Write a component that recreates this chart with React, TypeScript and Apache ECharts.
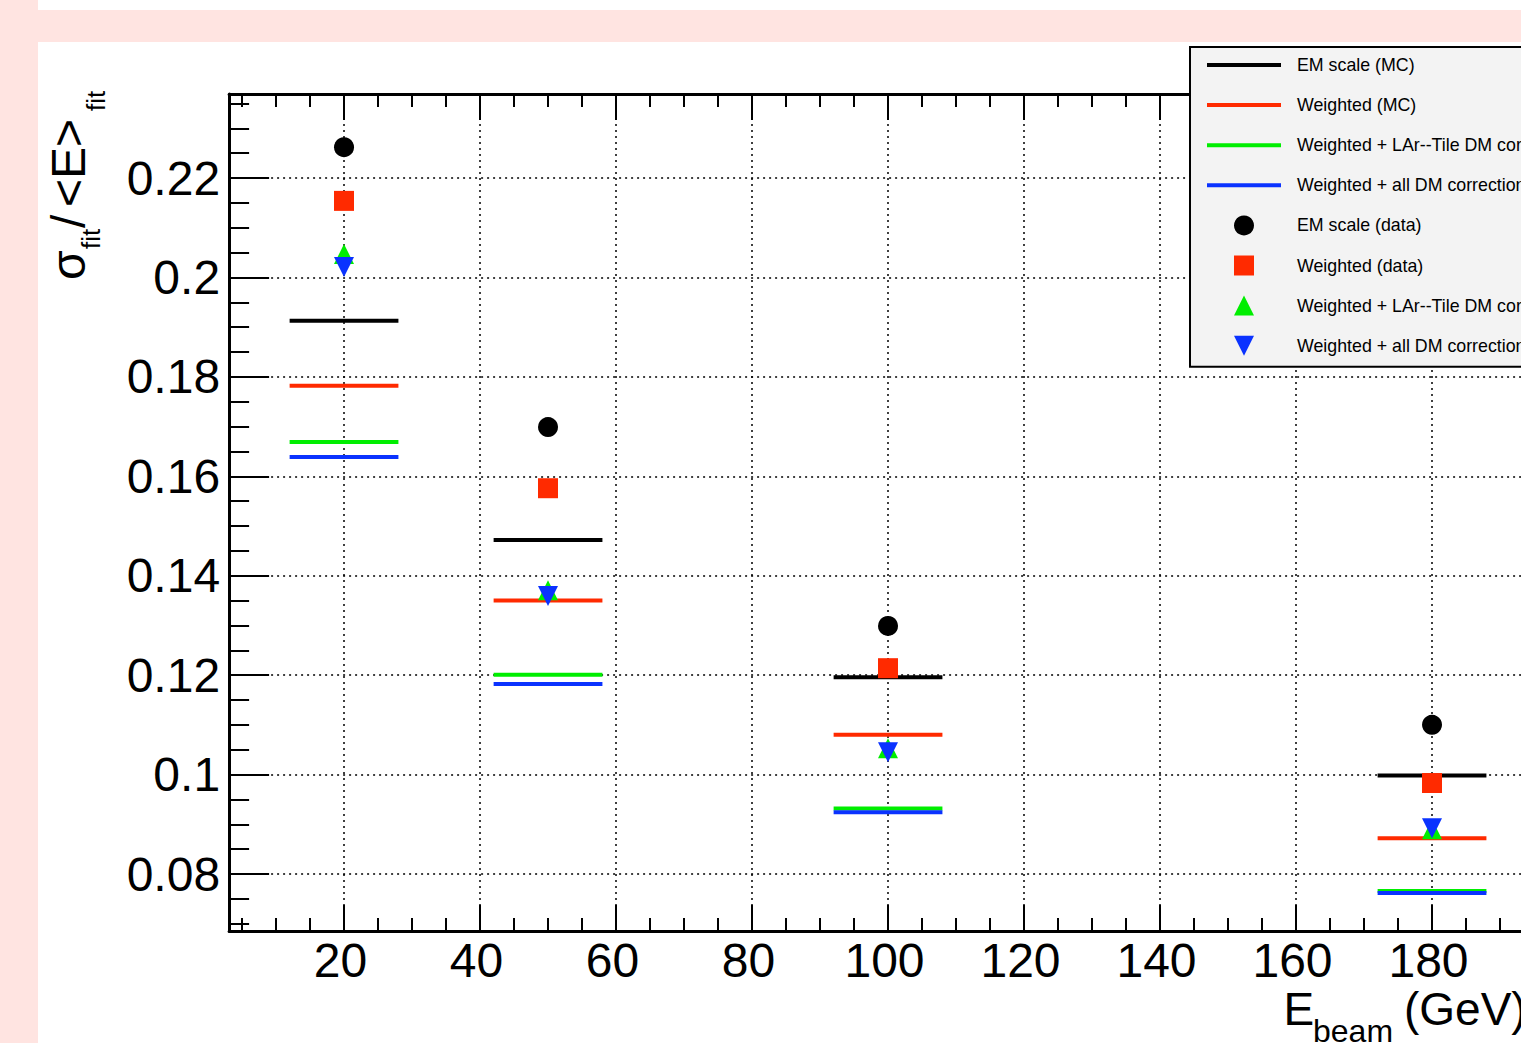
import React, { useEffect, useRef } from 'react';
import * as echarts from 'echarts';

// ---- data ----
const energies = [20, 50, 100, 180];
const binHalfWidth = 8;

const emScaleMC = [0.1913, 0.1472, 0.1196, 0.0998];
const weightedMC = [0.1782, 0.1350, 0.1080, 0.0872];
const larTileMC = [0.1669, 0.1201, 0.0932, 0.0766];
const allDMMC = [0.1639, 0.1182, 0.0924, 0.0762];

const emScaleData = [0.2262, 0.1699, 0.1299, 0.1100];
const weightedData = [0.2154, 0.1576, 0.1214, 0.0983];
const larTileData = [0.2047, 0.1371, 0.1053, 0.0890];
const allDMData = [0.2021, 0.1359, 0.1045, 0.0892];

const seriesNames = [
  'EM scale (MC)',
  'Weighted (MC)',
  'Weighted + LAr--Tile DM correction (MC)',
  'Weighted + all DM corrections (MC)',
  'EM scale (data)',
  'Weighted (data)',
  'Weighted + LAr--Tile DM correction (data)',
  'Weighted + all DM corrections (data)',
];

const xMajorTicks = [20, 40, 60, 80, 100, 120, 140, 160, 180, 200];
const xMinorTicks = Array.from({ length: 39 }, (_, k) => (k + 1) * 5);
const yMajorTicks = [0.08, 0.1, 0.12, 0.14, 0.16, 0.18, 0.2, 0.22];
const yMinorTicks = Array.from({ length: 34 }, (_, k) => Math.round((k + 14) * 5) / 1000);

const X_MIN = 3.1;
const X_MAX = 200;
const Y_MIN = 0.068535;
const Y_MAX = 0.2369;

const FONT = "'Liberation Sans', Arial, Helvetica, sans-serif";

const COLORS = {
  black: '#000000',
  red: '#ff2a00',
  green: '#00ee00',
  blue: '#0a32ff',
};

function segments(vals: number[]) {
  const out: any[] = [];
  energies.forEach((e, i) => {
    out.push([e - binHalfWidth, vals[i]]);
    out.push([e + binHalfWidth, vals[i]]);
    out.push(['-', '-']);
  });
  return out;
}

function points(vals: number[]) {
  return energies.map((e, i) => [e, vals[i]]);
}

const DOWN_TRI = 'path://M0,0L1,0L0.5,1Z';
const UP_TRI = 'path://M0.5,0L1,1L0,1Z';
const SQUARE = 'path://M0,0L1,0L1,1L0,1Z';
const LINE_ICON = 'path://M0,0L74,0L74,4L0,4Z';

function xAxisDef(position: 'top' | 'bottom', major: boolean) {
  return {
    type: 'value',
    position,
    min: X_MIN,
    max: X_MAX,
    axisLine: {
      show: major,
      onZero: false,
      lineStyle: { color: '#000', width: 3 },
    },
    axisTick: {
      show: true,
      inside: true,
      length: major ? 26 : 13,
      customValues: major ? xMajorTicks : xMinorTicks,
      lineStyle: { color: '#000', width: 2 },
    },
    axisLabel: {
      show: major && position === 'bottom',
      customValues: xMajorTicks,
      formatter: (v: number) => String(v),
      fontSize: 48,
      fontFamily: FONT,
      color: '#000',
      margin: 5,
      padding: [0, 7, 0, 0],
    },
    splitLine: {
      show: major && position === 'bottom',
      lineStyle: { color: '#000', width: 1.5, type: [2, 4] },
    },
  };
}

function yAxisDef(major: boolean) {
  return {
    type: 'value',
    position: 'left',
    min: Y_MIN,
    max: Y_MAX,
    axisLine: {
      show: major,
      onZero: false,
      lineStyle: { color: '#000', width: 3 },
    },
    axisTick: {
      show: true,
      inside: true,
      length: major ? 40 : 20,
      customValues: major ? yMajorTicks : yMinorTicks,
      lineStyle: { color: '#000', width: 2 },
    },
    axisLabel: {
      show: major,
      customValues: yMajorTicks,
      formatter: (v: number) => String(Number(v.toFixed(3))),
      fontSize: 48,
      fontFamily: FONT,
      color: '#000',
      margin: 9,
    },
    splitLine: {
      show: major,
      lineStyle: { color: '#000', width: 1.5, type: [2, 4] },
    },
  };
}

function mcSeries(name: string, vals: number[], color: string) {
  return {
    type: 'line',
    name,
    xAxisIndex: 0,
    yAxisIndex: 0,
    data: segments(vals),
    symbol: 'none',
    connectNulls: false,
    lineStyle: { color, width: 4, cap: 'butt' },
    itemStyle: { color },
    z: 3,
  };
}

function dataSeries(name: string, vals: number[], color: string, symbol: string) {
  return {
    type: 'scatter',
    name,
    xAxisIndex: 0,
    yAxisIndex: 0,
    data: points(vals),
    symbol,
    symbolSize: 20,
    itemStyle: { color, opacity: 1 },
    z: 4,
  };
}

function subText(x: number, baseline: number, text: string, size: number) {
  const y = baseline - 0.3465 * size;
  return {
    type: 'text',
    x,
    y,
    style: {
      text,
      fontSize: size,
      fontFamily: FONT,
      fill: '#000',
      align: 'left',
      verticalAlign: 'middle',
      textAlign: 'left',
      textVerticalAlign: 'middle',
    },
  };
}

const option: any = {
  animation: false,
  backgroundColor: 'transparent',
  grid: {
    left: 229.1,
    top: 94,
    width: (X_MAX - X_MIN) * 6.8,
    height: 837,
    outerBoundsMode: 'none',
    containLabel: false,
  },
  xAxis: [
    xAxisDef('bottom', true),
    xAxisDef('bottom', false),
    xAxisDef('top', true),
    xAxisDef('top', false),
  ],
  yAxis: [yAxisDef(true), yAxisDef(false)],
  legend: {
    orient: 'vertical',
    left: 1190,
    top: 47,
    padding: [8, 10, 11, 17],
    itemWidth: 74,
    itemHeight: 20,
    itemGap: 20.1,
    backgroundColor: '#f3f3f3',
    borderColor: '#000',
    borderWidth: 2,
    selectedMode: false,
    symbolKeepAspect: true,
    textStyle: {
      fontSize: 17.8,
      lineHeight: 20,
      fontFamily: FONT,
      color: '#000',
      padding: [0, 0, 0, 11],
    },
    data: [
      { name: seriesNames[0], icon: LINE_ICON },
      { name: seriesNames[1], icon: LINE_ICON },
      { name: seriesNames[2], icon: LINE_ICON },
      { name: seriesNames[3], icon: LINE_ICON },
      { name: seriesNames[4], icon: 'circle' },
      { name: seriesNames[5], icon: SQUARE },
      { name: seriesNames[6], icon: UP_TRI },
      { name: seriesNames[7], icon: DOWN_TRI },
    ],
  },
  graphic: [
    {
      type: 'group',
      x: 85,
      y: 278,
      rotation: Math.PI / 2,
      children: [
        subText(-2, 0, 'σ', 48),
        subText(29, 15, 'fit', 26),
        subText(50, 0, '/', 48),
        subText(71, 0, '<E>', 48),
        subText(167, 20, 'fit', 26),
      ],
    },
    subText(1283.5, 1025, 'E', 46),
    subText(1313, 1042, 'beam', 32),
    subText(1404, 1025, '(GeV)', 46),
  ],
  series: [
    mcSeries(seriesNames[0], emScaleMC, COLORS.black),
    mcSeries(seriesNames[1], weightedMC, COLORS.red),
    mcSeries(seriesNames[2], larTileMC, COLORS.green),
    mcSeries(seriesNames[3], allDMMC, COLORS.blue),
    dataSeries(seriesNames[4], emScaleData, COLORS.black, 'circle'),
    dataSeries(seriesNames[5], weightedData, COLORS.red, SQUARE),
    dataSeries(seriesNames[6], larTileData, COLORS.green, UP_TRI),
    dataSeries(seriesNames[7], allDMData, COLORS.blue, DOWN_TRI),
  ],
};

export default function App() {
  const ref = useRef<HTMLDivElement>(null);
  useEffect(() => {
    if (!ref.current) return;
    const chart = echarts.init(ref.current, null, { renderer: 'svg', width: 1521, height: 1043 });
    chart.setOption(option);
    return () => chart.dispose();
  }, []);
  return (
    <div
      style={{
        position: 'fixed',
        left: 0,
        top: 0,
        width: 1521,
        height: 1043,
        background: '#ffe4e1',
        overflow: 'hidden',
      }}
    >
      <div style={{ position: 'absolute', left: 38, top: 0, width: 1483, height: 10, background: '#ffffff' }} />
      <div style={{ position: 'absolute', left: 38, top: 42, width: 1483, height: 1001, background: '#ffffff' }} />
      <div ref={ref} style={{ position: 'absolute', left: 0, top: 0, width: 1521, height: 1043 }} />
    </div>
  );
}
